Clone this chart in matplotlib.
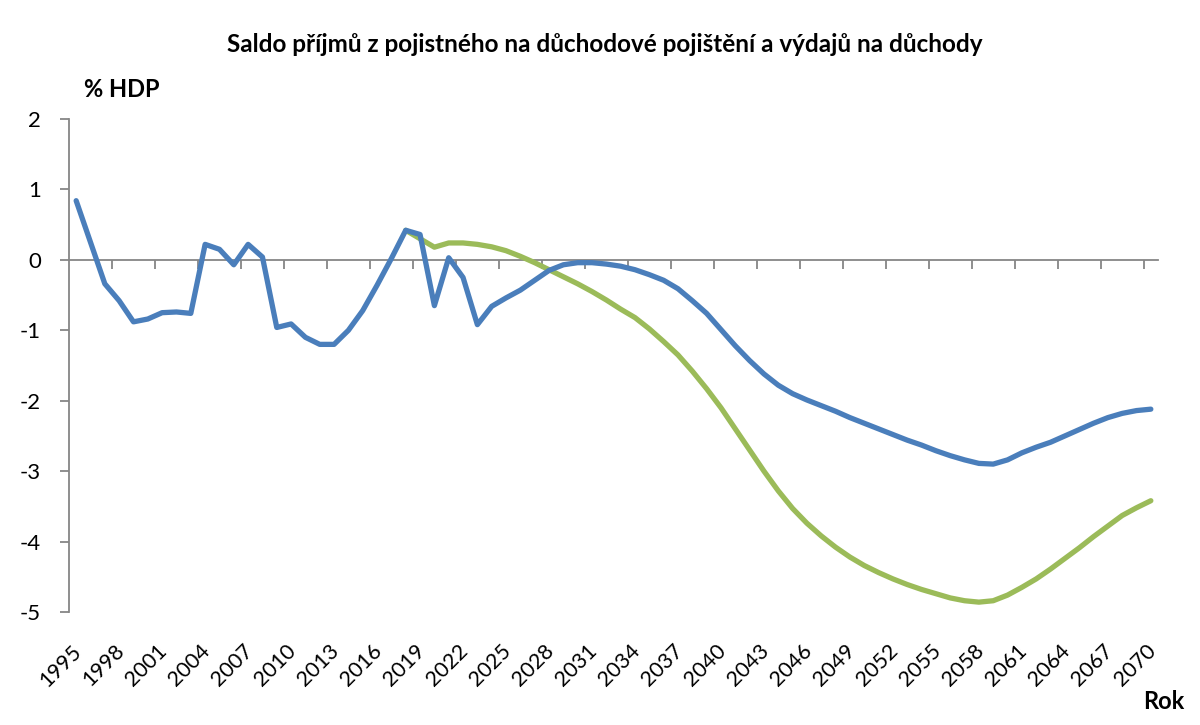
import matplotlib
matplotlib.use('Agg')
import matplotlib.pyplot as plt
from matplotlib import transforms
import numpy as np

# ---------------- data ----------------
years = list(range(1995, 2071))
saldo_blue = [0.84, 0.25, -0.34, -0.58, -0.88, -0.84, -0.75, -0.74, -0.76, 0.22,
              0.15, -0.07, 0.22, 0.04, -0.96, -0.91, -1.10, -1.20, -1.20, -1.00,
              -0.72, -0.36, 0.02, 0.42, 0.36, -0.65, 0.03, -0.25, -0.92, -0.66,
              -0.54, -0.43, -0.29, -0.15, -0.07, -0.04, -0.04, -0.06, -0.09, -0.14,
              -0.21, -0.29, -0.41, -0.58, -0.76, -0.99, -1.22, -1.43, -1.62, -1.78,
              -1.90, -1.99, -2.07, -2.15, -2.24, -2.32, -2.40, -2.48, -2.56, -2.63,
              -2.71, -2.78, -2.84, -2.89, -2.90, -2.84, -2.74, -2.66, -2.59, -2.50,
              -2.41, -2.32, -2.24, -2.18, -2.14, -2.12]
green_years = list(range(2018, 2071))
saldo_green = [0.42, 0.30, 0.18, 0.24, 0.24, 0.22, 0.185, 0.13, 0.05, -0.04,
               -0.14, -0.24, -0.34, -0.45, -0.57, -0.70, -0.82, -0.98, -1.16, -1.35,
               -1.58, -1.83, -2.10, -2.40, -2.70, -3.00, -3.28, -3.53, -3.74, -3.92,
               -4.08, -4.22, -4.34, -4.44, -4.53, -4.61, -4.68, -4.74, -4.80, -4.84,
               -4.86, -4.84, -4.76, -4.65, -4.53, -4.39, -4.24, -4.09, -3.93, -3.78,
               -3.63, -3.52, -3.42]
yticks = [-5, -4, -3, -2, -1, 0, 1, 2]
label_step = 3

title = "Saldo příjmů z pojistného na důchodové pojištění a výdajů na důchody"
ylabel = "% HDP"
xlabel = "Rok"

# ---------------- style ----------------
plt.rcParams['font.family'] = ['Lato', 'DejaVu Sans']
plt.rcParams['axes.unicode_minus'] = False
BLUE = '#4A7EBB'
GREEN = '#9BBB59'
GRAY = '#868686'

W, H = 1200, 725
fig = plt.figure(figsize=(W / 100, H / 100), dpi=100)
ax = fig.add_axes([69 / W, (H - 612) / H, (1158 - 69) / W, (612 - 119) / H])

n = len(years)
x = np.arange(n)
gx = np.array([years.index(y) for y in green_years])

ax.plot(gx, saldo_green, color=GREEN, lw=3.8, solid_joinstyle='round',
        solid_capstyle='round', zorder=3)
ax.plot(x, saldo_blue, color=BLUE, lw=3.8, solid_joinstyle='round',
        solid_capstyle='round', zorder=4)

ax.set_xlim(-0.5, n - 0.5)
ax.set_ylim(min(yticks), max(yticks))

for s in ['top', 'right']:
    ax.spines[s].set_visible(False)
ax.spines['left'].set_color(GRAY)
ax.spines['left'].set_linewidth(1.3)
ax.spines['bottom'].set_position(('data', 0))
ax.spines['bottom'].set_color(GRAY)
ax.spines['bottom'].set_linewidth(1.3)

bounds = np.arange(-0.5 + label_step, n - 0.5, label_step)
ax.set_xticks(bounds)
ax.tick_params(axis='x', direction='out', length=6.5, width=1.3, color=GRAY,
               labelbottom=False)
ax.set_yticks(yticks)
ax.set_yticklabels([str(v) for v in yticks])
ax.tick_params(axis='y', direction='out', length=6.5, width=1.3, color=GRAY,
               pad=13.5, labelsize=16, labelcolor='black')

trans = transforms.blended_transform_factory(ax.transData, ax.transAxes)
trans = transforms.offset_copy(trans, fig=fig, x=2, y=-36, units='dots')
for i in range(0, n, label_step):
    ax.text(x[i], 0, str(years[i]), transform=trans, rotation=45,
            rotation_mode='anchor', ha='right', va='center', fontsize=15.5,
            color='black', clip_on=False)

fig.text(605 / W, 1 - 52 / H, title, ha='center', va='baseline',
         fontsize=17.5, fontweight='bold', color='black')
fig.text(84 / W, 1 - 97 / H, ylabel, ha='left', va='baseline',
         fontsize=17, fontweight='bold', color='black')
fig.text(1184 / W, 1 - 709 / H, xlabel, ha='right', va='baseline',
         fontsize=17, fontweight='bold', color='black')

fig.savefig('out.png', dpi=100, facecolor='white')
